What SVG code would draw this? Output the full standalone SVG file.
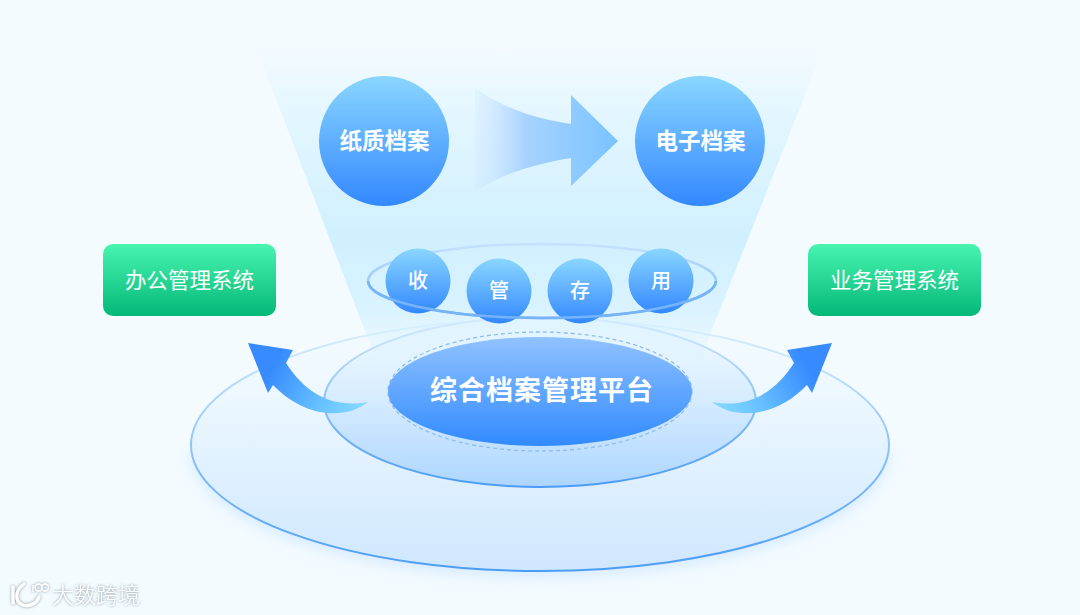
<svg xmlns="http://www.w3.org/2000/svg" width="1080" height="615" viewBox="0 0 1080 615">
<style>
text{font-family:"Noto Sans CJK SC","Noto Sans",sans-serif;fill:#fff;text-anchor:middle}
.big{font-size:22.500px;font-weight:700}
.small{font-size:20px;font-weight:500}
.sys{font-size:21.500px;font-weight:400}
</style>
<defs>
<linearGradient id="beam" x1="0" y1="50" x2="0" y2="365" gradientUnits="userSpaceOnUse"><stop offset="0" stop-color="#d0f0ff" stop-opacity="0"/><stop offset=".2" stop-color="#d0f0ff" stop-opacity=".45"/><stop offset=".6" stop-color="#d0f0ff"/><stop offset=".82" stop-color="#d0f0ff" stop-opacity=".75"/><stop offset="1" stop-color="#d0f0ff" stop-opacity="0"/></linearGradient>
<linearGradient id="ball" x1="0" y1="0" x2="0" y2="1"><stop offset="0" stop-color="#8ad6ff"/><stop offset="1" stop-color="#3388ff"/></linearGradient>
<linearGradient id="plat" x1="0" y1="0" x2="0" y2="1"><stop offset="0" stop-color="#90c2ff"/><stop offset="1" stop-color="#318aff"/></linearGradient>
<linearGradient id="green" x1="0" y1="0" x2="0" y2="1"><stop offset="0" stop-color="#48f4b0"/><stop offset="1" stop-color="#04b877"/></linearGradient>
<linearGradient id="flow" x1="475" y1="0" x2="618" y2="0" gradientUnits="userSpaceOnUse"><stop offset="0" stop-color="#d2e8ff" stop-opacity=".3"/><stop offset=".35" stop-color="#a8d2ff"/><stop offset="1" stop-color="#78c4ff"/></linearGradient>
<linearGradient id="outer" x1="0" y1="0" x2="0" y2="1"><stop offset="0" stop-color="#f2faff" stop-opacity=".25"/><stop offset=".45" stop-color="#e6f4ff"/><stop offset="1" stop-color="#cfe7ff"/></linearGradient>
<linearGradient id="outerS" x1="0" y1="0" x2="0" y2="1"><stop offset="0" stop-color="#e2f2ff"/><stop offset=".4" stop-color="#9cccfb"/><stop offset="1" stop-color="#4a9cf6"/></linearGradient>
<linearGradient id="inner" x1="0" y1="0" x2="0" y2="1"><stop offset="0" stop-color="#e4f5ff" stop-opacity=".3"/><stop offset="1" stop-color="#acd5ff"/></linearGradient>
<linearGradient id="innerS" x1="0" y1="0" x2="0" y2="1"><stop offset="0" stop-color="#d6ebff"/><stop offset=".5" stop-color="#8fc2f6"/><stop offset="1" stop-color="#4a9cf6"/></linearGradient>
<linearGradient id="ringS" x1="0" y1="0" x2="0" y2="1"><stop offset="0" stop-color="#c4e2ff"/><stop offset="1" stop-color="#76b4f7"/></linearGradient>
<linearGradient id="curveL" x1="368" y1="410" x2="255" y2="345" gradientUnits="userSpaceOnUse"><stop offset="0" stop-color="#86dcff"/><stop offset=".35" stop-color="#66c0ff"/><stop offset=".8" stop-color="#378bff"/></linearGradient>
<linearGradient id="curveR" x1="712" y1="410" x2="825" y2="345" gradientUnits="userSpaceOnUse"><stop offset="0" stop-color="#86dcff"/><stop offset=".35" stop-color="#66c0ff"/><stop offset=".8" stop-color="#378bff"/></linearGradient>
<filter id="soft" x="-10%" y="-10%" width="120%" height="130%"><feGaussianBlur stdDeviation="8"/></filter>
<filter id="ws" x="-20%" y="-30%" width="140%" height="160%"><feDropShadow dx="0" dy="0" stdDeviation="1.500" flood-color="#6f7d8c" flood-opacity=".9"/></filter>
</defs>
<rect width="1080" height="615" fill="#f3fbff"/>

<g id="outer-disc">
<path d="M191 445A349 126 0 0 0 889 445Z" transform="translate(0 5)" fill="#bcdcff" opacity=".6" filter="url(#soft)"/>
<ellipse cx="540" cy="445" rx="349" ry="126" fill="url(#outer)" stroke="url(#outerS)" stroke-width="2"/>
</g>
<polygon id="beam-shape" points="258,52 822,52 698,365 378,365" fill="url(#beam)"/>
<g id="inner-disc">
<ellipse cx="540" cy="402" rx="216" ry="85" fill="url(#inner)" stroke="url(#innerS)" stroke-width="2"/>
</g>

<g id="connectors">
<path d="M475 88C500 106 530 118 571 124V95L618 141L571 186V158C530 165 500 175 475 192Z" fill="url(#flow)"/>
<path d="M248 343L293 350L286 363C300 385 325 410 368 402C345 420 305 418 273 385L268 393Z" fill="url(#curveL)"/>
<path d="M832 343L787 350L794 363C780 385 755 410 712 402C735 420 775 418 807 385L812 393Z" fill="url(#curveR)"/>
</g>

<g id="platform">
<ellipse cx="540" cy="391.500" rx="152" ry="59.500" fill="none" stroke="#8fbdf0" stroke-width="1.300" stroke-dasharray="4 3"/>
<ellipse cx="540" cy="391.500" rx="152" ry="54.500" fill="url(#plat)"/>
<text class="big" x="542" y="399.500" style="font-size:27px;letter-spacing:1px">综合档案管理平台</text>
</g>

<g id="node-paper">
<circle cx="384" cy="141" r="65" fill="url(#ball)"/>
<text class="big" x="384.500" y="149">纸质档案</text>
</g>
<g id="node-digital">
<circle cx="700" cy="141" r="65" fill="url(#ball)"/>
<text class="big" x="700.500" y="149">电子档案</text>
</g>

<ellipse id="ring" cx="542" cy="281" rx="174" ry="37" fill="none" stroke="url(#ringS)" stroke-width="2.500"/>
<g id="node-shou"><circle cx="418" cy="281" r="32.500" fill="url(#ball)"/><text class="small" x="418" y="288">收</text></g>
<g id="node-guan"><circle cx="499" cy="291" r="32.500" fill="url(#ball)"/><text class="small" x="499" y="298">管</text></g>
<g id="node-cun"><circle cx="580" cy="291" r="32.500" fill="url(#ball)"/><text class="small" x="580" y="298">存</text></g>
<g id="node-yong"><circle cx="661" cy="281" r="32.500" fill="url(#ball)"/><text class="small" x="661" y="288">用</text></g>
<path id="ring-front" d="M368 281C368 301 446 318 542 318C638 318 716 301 716 281" fill="none" stroke="#76b4f7" stroke-width="2.500"/>

<g id="node-office">
<rect x="103" y="244" width="173" height="72" rx="10" fill="url(#green)"/>
<text class="sys" x="189.500" y="288">办公管理系统</text>
</g>
<g id="node-business">
<rect x="808" y="244" width="173" height="72" rx="10" fill="url(#green)"/>
<text class="sys" x="894.500" y="288">业务管理系统</text>
</g>

<g id="watermark" filter="url(#ws)">
<path d="M13 587V603M24 584C15 590 14 602 23 605C30 607 37 603 39 597" fill="none" stroke="#fff" stroke-width="3.200" stroke-linecap="round"/>
<path d="M33 585V592" fill="none" stroke="#fff" stroke-width="1.500"/>
<circle cx="38.500" cy="587.500" r="3.500" fill="none" stroke="#fff" stroke-width="1.300"/>
<circle cx="45" cy="587.500" r="3.500" fill="none" stroke="#fff" stroke-width="1.300"/>
<text x="96" y="603" style="font-size:22px;font-weight:300">大数跨境</text>
</g>
</svg>
